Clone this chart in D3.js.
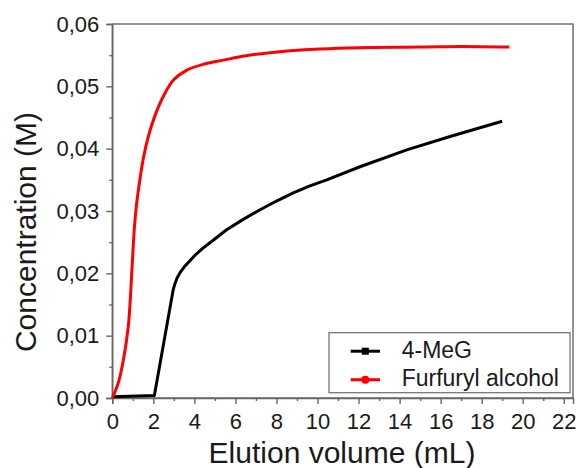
<!DOCTYPE html>
<html>
<head>
<meta charset="utf-8">
<script src="https://cdn.jsdelivr.net/npm/d3@7"></script>
<style>
  body { margin: 0; background: #fff; }
  text { font-family: "Liberation Sans", Arial, sans-serif; }
</style>
</head>
<body>
<div id="chart"></div>
<script>
// data
var megX = [0, 2.05, 2.97, 3.05, 3.15, 3.3, 3.5, 3.75, 4.03, 4.4, 4.84, 5.57, 6.4, 7.2, 8.0, 8.82, 9.6, 10.45, 12.07, 14.35, 16.5, 19.0];
var megY = [0.0002, 0.0004, 0.0174, 0.0183, 0.0192, 0.0201, 0.021, 0.0219, 0.0229, 0.024, 0.0251, 0.027, 0.0287, 0.0302, 0.0316, 0.0329, 0.034, 0.035, 0.0371, 0.0398, 0.042, 0.0444];

var furX = [0, 0.29, 0.54, 0.78, 0.88, 0.98, 1.08, 1.18, 1.3, 1.51, 1.76, 2.08, 2.49, 2.98, 3.63, 4.51, 5.41, 6.5, 7.68, 8.66, 10.13, 12, 15, 17, 19.35];
var furY = [0, 0.0024, 0.0061, 0.0115, 0.016, 0.022, 0.0275, 0.031, 0.034, 0.0384, 0.042, 0.0453, 0.0484, 0.051, 0.0526, 0.0536, 0.0542, 0.0549, 0.0554, 0.0557, 0.056, 0.0562, 0.0563, 0.0564, 0.0563];

var seriesNames = ["4-MeG", "Furfuryl alcohol"];
var seriesColors = ["#000000", "#ff0000"];

var xTicks = d3.range(0, 23, 2);
var xMinor = d3.range(1, 23, 2);
var yTicks = [0, 0.01, 0.02, 0.03, 0.04, 0.05, 0.06];
var yMinor = [0.005, 0.015, 0.025, 0.035, 0.045, 0.055];

var svgWidth = 578, svgHeight = 468;
var margin = {top: 24, right: 5, bottom: 70, left: 112.3};
var width = svgWidth - margin.left - margin.right,
    height = svgHeight - margin.top - margin.bottom;

var svg = d3.select("#chart")
  .append("svg")
    .attr("width", svgWidth)
    .attr("height", svgHeight);

var g = svg.append("g")
    .attr("transform", "translate(" + margin.left + "," + margin.top + ")");

var x = d3.scaleLinear().domain([0, 22.45]).range([0, width]);
var y = d3.scaleLinear().domain([0, 0.06]).range([height, 0]);

var axisColor = "#666";

// frame
g.append("rect")
    .attr("width", width)
    .attr("height", height)
    .attr("fill", "none")
    .attr("stroke", axisColor)
    .attr("stroke-width", 1.4);

// x axis
g.append("g")
    .attr("transform", "translate(0," + height + ")")
    .call(d3.axisBottom(x).tickValues(xTicks).tickSize(6).tickPadding(9).tickFormat(d3.format("d")));
g.append("g")
    .attr("transform", "translate(0," + height + ")")
    .call(d3.axisBottom(x).tickValues(xMinor).tickSize(3).tickFormat(""))
    .select(".domain").remove();

// y axis
g.append("g")
    .call(d3.axisLeft(y).tickValues(yTicks).tickSize(6).tickPadding(7)
      .tickFormat(function(d) { return d3.format(".2f")(d).replace(".", ","); }));
g.append("g")
    .call(d3.axisLeft(y).tickValues(yMinor).tickSize(3).tickFormat(""))
    .select(".domain").remove();

g.selectAll(".domain, .tick line")
    .attr("stroke", axisColor)
    .attr("stroke-width", 1.4);
g.selectAll(".tick text")
    .attr("font-size", "22px")
    .attr("fill", "#1a1a1a")
    .style("font-family", "'Liberation Sans', Arial, sans-serif");

// lines
var megData = megX.map(function(v, i) { return [v, megY[i]]; });
var furData = furX.map(function(v, i) { return [v, furY[i]]; });

var megLine = d3.line()
    .x(function(d) { return x(d[0]); })
    .y(function(d) { return y(d[1]); });

var furLine = d3.line()
    .x(function(d) { return x(d[0]); })
    .y(function(d) { return y(d[1]); })
    .curve(d3.curveCatmullRom.alpha(0.5));

g.append("path")
    .datum(megData)
    .attr("fill", "none")
    .attr("stroke", seriesColors[0])
    .attr("stroke-width", 3)
    .attr("stroke-linejoin", "round")
    .attr("d", megLine);

g.append("path")
    .datum(furData)
    .attr("fill", "none")
    .attr("stroke", seriesColors[1])
    .attr("stroke-width", 3)
    .attr("stroke-linejoin", "round")
    .attr("d", furLine);

// axis titles
svg.append("text")
    .attr("x", 342)
    .attr("y", 463)
    .attr("text-anchor", "middle")
    .attr("font-size", "30px")
    .attr("fill", "#1a1a1a")
    .text("Elution volume (mL)");

svg.append("text")
    .attr("transform", "translate(36," + 232 + ") rotate(-90)")
    .attr("text-anchor", "middle")
    .attr("font-size", "30px")
    .attr("fill", "#1a1a1a")
    .text("Concentration (M)");

// legend
var legend = svg.append("g").attr("transform", "translate(329,332.7)");
legend.append("rect")
    .attr("width", 241)
    .attr("height", 60)
    .attr("fill", "#fff")
    .attr("stroke", "#777")
    .attr("stroke-width", 1.3);

var rows = [{name: seriesNames[0], color: seriesColors[0], cy: 18.5, ty: 25.8, shape: "square"},
            {name: seriesNames[1], color: seriesColors[1], cy: 47, ty: 53.5, shape: "circle"}];

rows.forEach(function(r) {
  legend.append("line")
      .attr("x1", 21.7).attr("x2", 51)
      .attr("y1", r.cy).attr("y2", r.cy)
      .attr("stroke", r.color)
      .attr("stroke-width", 3);
  if (r.shape === "square") {
    legend.append("rect")
        .attr("x", 36.3 - 3.5).attr("y", r.cy - 3.5)
        .attr("width", 7).attr("height", 7)
        .attr("fill", r.color);
  } else {
    legend.append("circle")
        .attr("cx", 36.3).attr("cy", r.cy)
        .attr("r", 4)
        .attr("fill", r.color);
  }
  legend.append("text")
      .attr("x", 72.7)
      .attr("y", r.ty)
      .attr("font-size", "23px")
      .attr("fill", "#1a1a1a")
      .text(r.name);
});
</script>
</body>
</html>
